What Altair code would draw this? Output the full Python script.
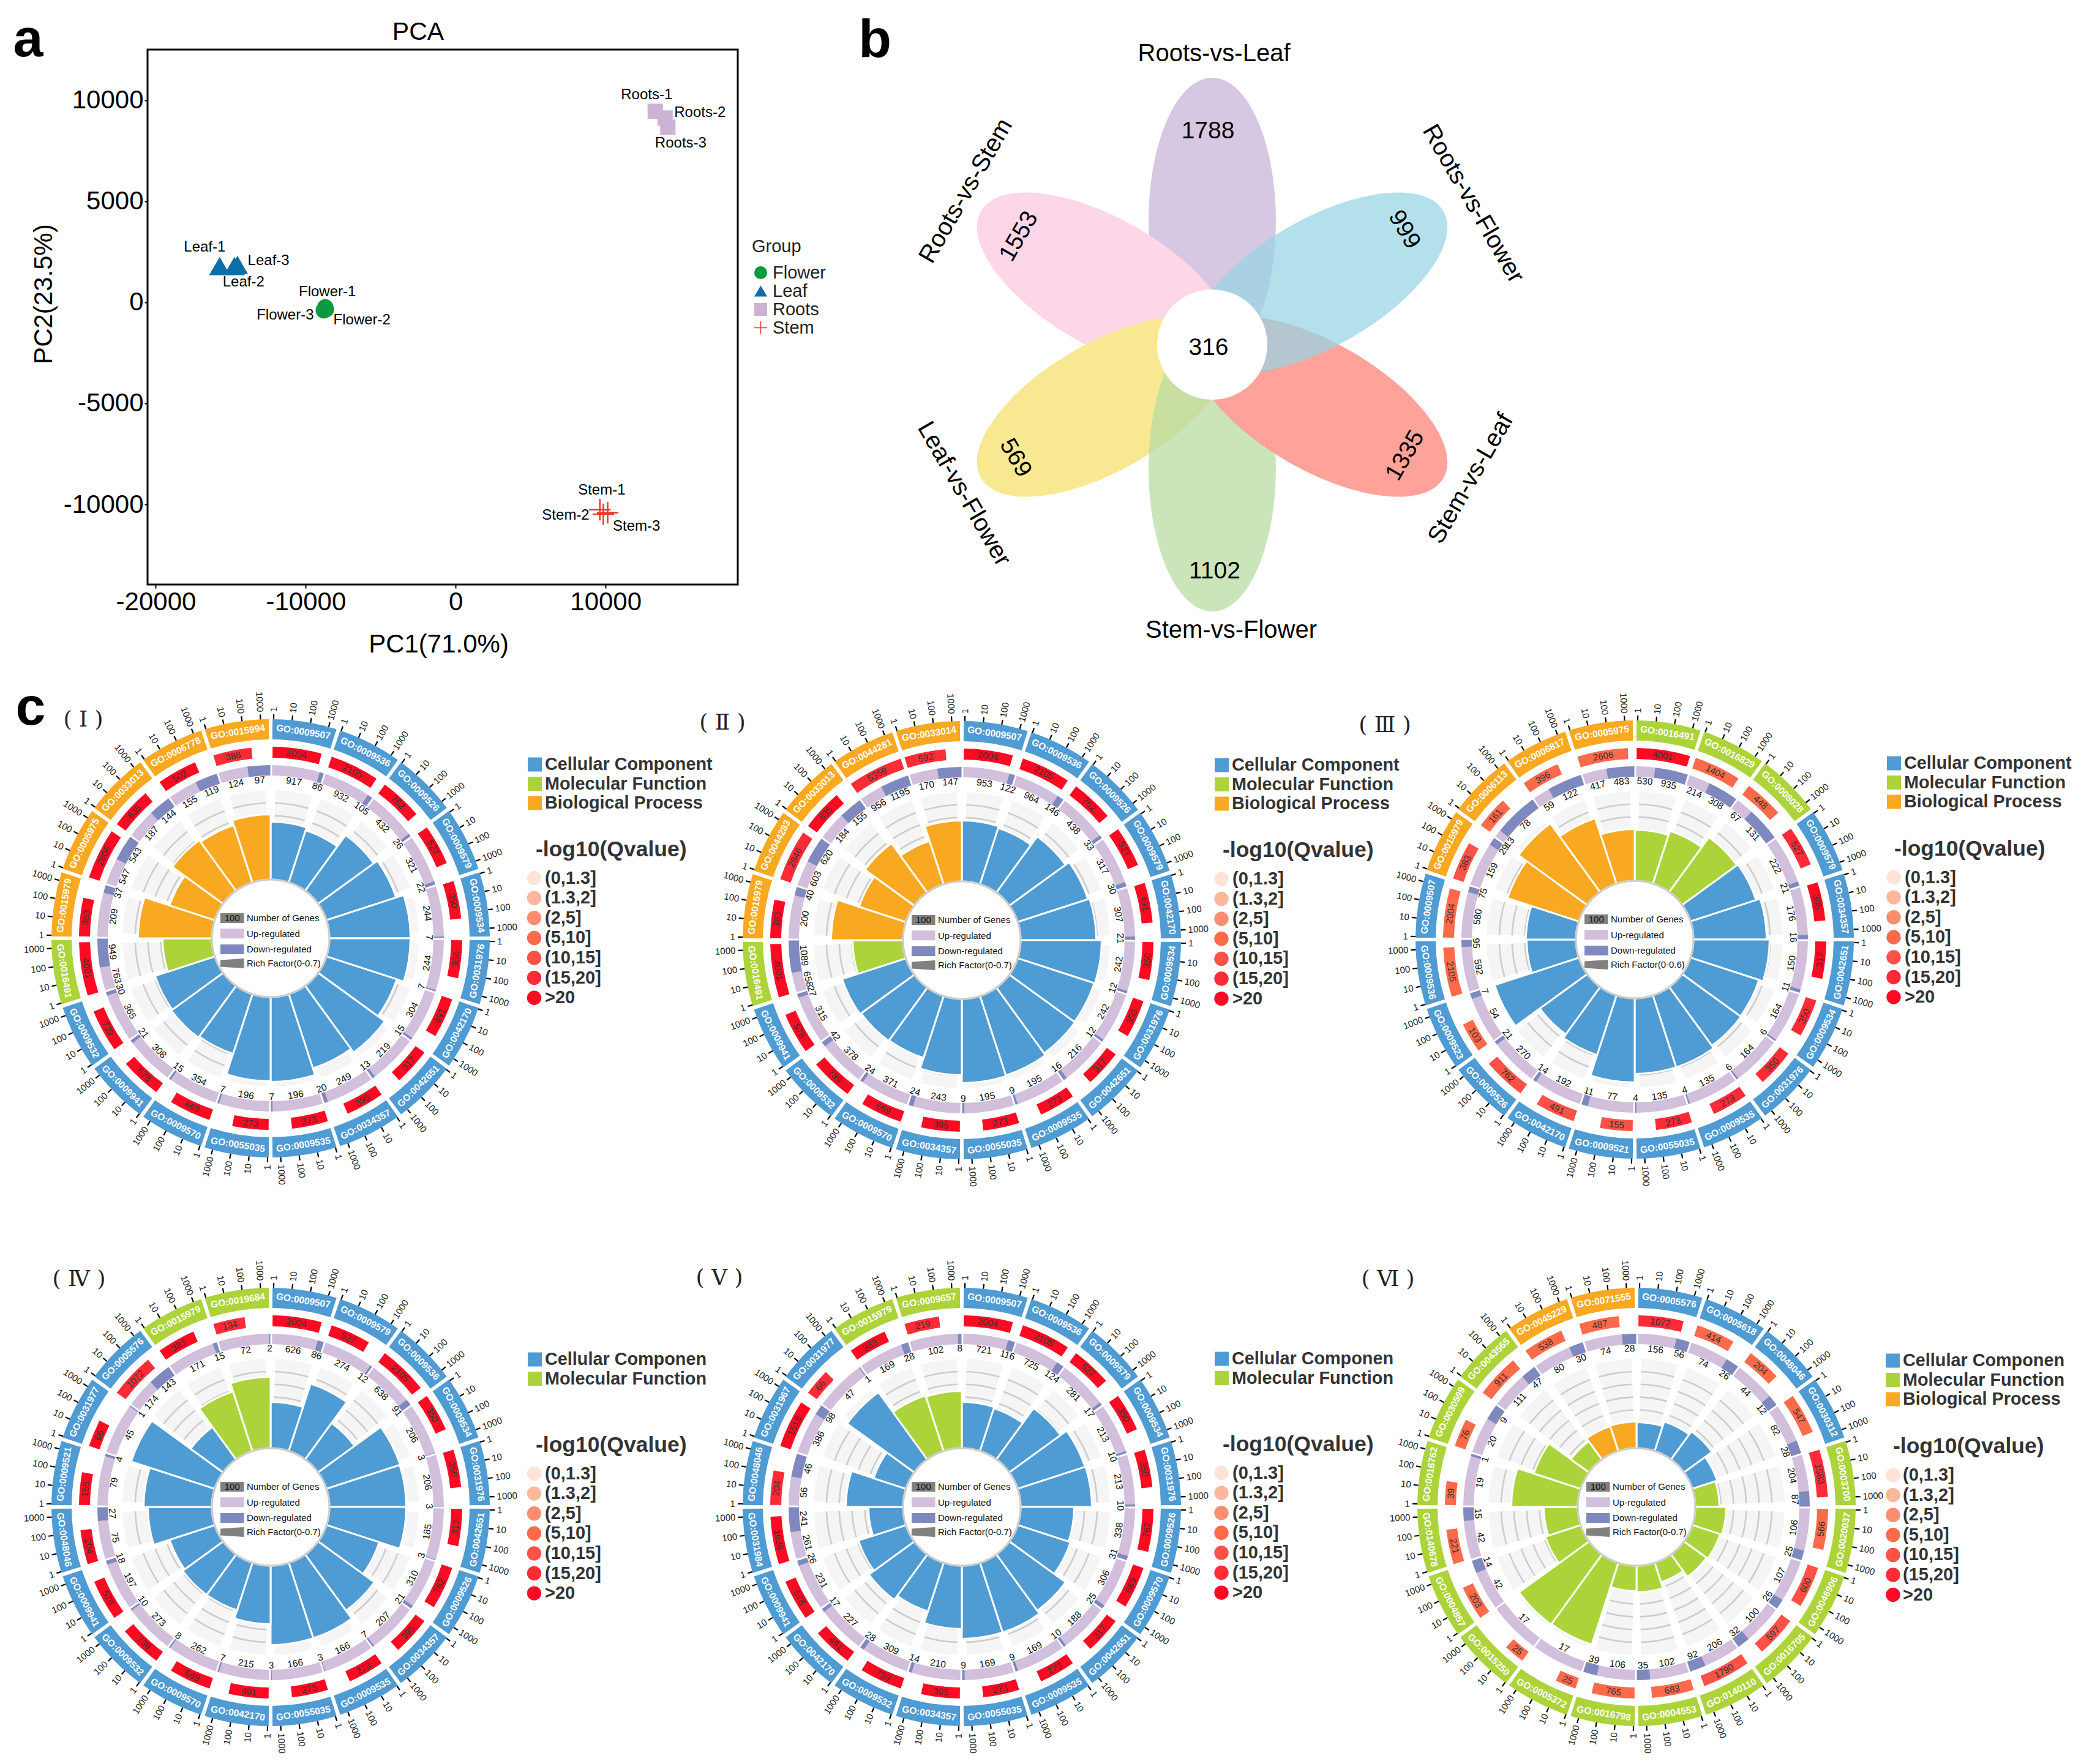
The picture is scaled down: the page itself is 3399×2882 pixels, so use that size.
import math
import altair as alt
import pandas as pd

W, H = 3383, 2866
FONT = "Liberation Sans"

# ---------- panel a ----------
GROUPS = ["Flower", "Leaf", "Roots", "Stem"]
SAMPLES = ["Flower-1", "Flower-2", "Flower-3", "Leaf-1", "Leaf-2", "Leaf-3",
           "Roots-1", "Roots-2", "Roots-3", "Stem-1", "Stem-2", "Stem-3"]
SAMPLE_GROUP = [0, 0, 0, 1, 1, 1, 2, 2, 2, 3, 3, 3]
PC1 = [-8700, -8650, -8800, -15741, -14761, -14557, 13308, 13965, 14149, 9616, 9845, 10139]
PC2 = [-250, -350, -400, 1786, 1786, 1847, 9446, 9113, 8659, -10263, -10488, -10415]
LABEL_PC1 = [-8560, -6250, -11370, -16740, -14150, -12480, 12740, 16290, 15010, 9740, 7340, 12060]
LABEL_PC2 = [510, -880, -640, 2720, 1000, 2040, 10260, 9390, 7870, -9290, -10530, -11080]
X_DOMAIN = [-20551, 18813]
Y_DOMAIN = [-13966, 12500]

# ---------- panel b ----------
PETAL_NAMES = ["Roots-vs-Leaf", "Roots-vs-Stem", "Leaf-vs-Flower", "Stem-vs-Flower", "Stem-vs-Leaf", "Roots-vs-Flower"]
PETAL_COUNTS = [1788, 1553, 569, 1102, 1335, 999]
PETAL_CORE = 316

# ---------- panel c ----------
CATS = ["Cellular Component", "Molecular Function", "Biological Process"]
GO_1 = ["0009507","0009536","0009526","0009579","0009534","0031976","0042170","0042651","0034357","0009535","0055035","0009570","0009941","0009532","0016491","0015979","0005975","0033013","0006778","0015994"]
CAT_1 = [0]*14 + [1] + [2]*5
GENES_1 = [2004,2105,762,527,350,350,491,317,395,273,273,669,578,739,4001,383,2606,635,502,388]
LEVEL_1 = [6]*19 + [5]
UP_1 = [917,932,432,321,244,244,304,219,249,196,196,354,308,365,763,209,547,187,155,124]
DOWN_1 = [86,105,26,22,7,7,15,13,20,7,7,15,21,30,949,37,543,144,119,97]
RICH_1 = [.446,.422,.532,.566,.628,.628,.571,.638,.604,.657,.652,.484,.494,.484,.379,.571,.364,.484,.465,.503]

GO_2 = ["0009507","0009536","0009526","0009579","0042170","0009534","0031976","0042651","0009535","0055035","0034357","0009570","0009532","0009941","0016491","0015979","0044283","0033013","0044281","0033014"]
CAT_2 = [0]*14 + [1] + [2]*5
GENES_2 = [2004,2105,762,527,491,350,350,317,273,273,395,669,739,578,4001,383,2846,635,5359,592]
LEVEL_2 = [6]*16 + [5,6,5,5]
UP_2 = [953,964,438,317,307,242,242,216,195,195,243,371,378,315,658,200,603,184,956,170]
DOWN_2 = [122,146,33,30,21,12,12,16,9,9,24,24,42,27,1089,40,620,155,1195,147]
RICH_2 = [.470,.456,.537,.571,.585,.628,.623,.628,.647,.652,.590,.503,.508,.518,.388,.556,.379,.470,.350,.470]

GO_3 = ["0016491","0016829","0008028","0009579","0034357","0042651","0009534","0031976","0009535","0055035","0009521","0042170","0009526","0009523","0009536","0009507","0015979","0006113","0006817","0005975"]
CAT_3 = [1]*3 + [0]*13 + [2]*4
GENES_3 = [4001,1404,448,527,395,317,350,350,273,273,155,491,762,103,2105,2004,383,161,396,2606]
LEVEL_3 = [6,3,3,5,6,6,5,5,5,5,4,4,4,3,3,3,4,3,3,3]
UP_3 = [530,214,67,222,176,150,164,164,135,135,77,192,270,54,592,580,159,13,59,417]
DOWN_3 = [935,308,131,21,16,11,6,6,4,4,11,14,21,7,95,75,29,78,122,483]
RICH_3 = [.337,.366,.448,.456,.485,.505,.477,.481,.501,.501,.559,.415,.386,.588,.325,.329,.497,.563,.456,.341]

GO_4 = ["0009507","0009579","0009536","0009534","0031976","0042651","0009526","0034357","0009535","0055035","0042170","0009570","0009532","0009941","0048046","0009521","0031977","0005576","0015979","0019684"]
CAT_4 = [0]*18 + [1]*2
GENES_4 = [2004,527,2105,350,350,317,762,395,273,273,491,669,739,578,204,155,66,1072,383,134]
LEVEL_4 = [6]*17 + [5,6,5]
UP_4 = [626,274,638,206,206,185,310,207,166,166,215,262,273,197,75,79,45,174,171,72]
DOWN_4 = [86,12,91,3,3,3,21,7,3,3,7,8,10,18,27,4,1,143,15,2]
RICH_4 = [.355,.547,.345,.599,.595,.595,.427,.537,.614,.614,.451,.384,.384,.364,.494,.527,.681,.307,.484,.551]

GO_5 = ["0009507","0009536","0009579","0009534","0031976","0009526","0009570","0042651","0009535","0055035","0034357","0009532","0042170","0009941","0031984","0048046","0031967","0031977","0015979","0009657"]
CAT_5 = [0]*18 + [1]*2
GENES_5 = [2004,2105,527,350,350,762,669,317,273,273,395,739,491,578,1638,204,1618,66,383,219]
LEVEL_5 = [6]*15 + [5,6,5,6,5]
UP_5 = [721,725,281,213,213,338,306,188,169,169,210,309,227,231,261,56,386,47,169,102]
DOWN_5 = [116,124,17,10,10,31,25,10,9,9,14,28,17,26,241,46,98,1,28,8]
RICH_5 = [.355,.345,.489,.547,.551,.412,.427,.537,.566,.566,.489,.393,.432,.384,.264,.441,.259,.643,.451,.441]

GO_6 = ["0005576","0005618","0048046","0030312","0003700","0020037","0046906","0016705","0140110","0004553","0016798","0005372","0015250","0004857","0140678","0016762","0030599","0043565","0045229","0071555"]
CAT_6 = [0]*4 + [1]*14 + [2]*2
GENES_6 = [1072,414,204,547,1583,566,600,597,1790,683,765,25,25,203,221,39,76,911,538,487]
LEVEL_6 = [5,3,3,3,5,3,4,4,4,3,3,3,3,3,3,3,3,3,3,3]
UP_6 = [156,74,44,82,204,106,107,100,206,102,106,17,17,42,42,19,20,111,80,74]
DOWN_6 = [56,26,12,28,87,25,26,32,92,35,39,0,0,14,15,1,9,47,30,28]
RICH_6 = [.197,.235,.264,.197,.182,.235,.221,.211,.153,.201,.192,.667,.671,.283,.259,.513,.379,.168,.197,.201]

TICK_LABELS = ["1", "10", "100", "1000"]
QVALUE_BINS = ["(0,1.3]", "(1.3,2]", "(2,5]", "(5,10]", "(10,15]", "(15,20]", ">20"]
ROMAN = ["( Ⅰ )", "( Ⅱ )", "( Ⅲ )", "( Ⅳ )", "( Ⅴ )", "( Ⅵ )"]
LEGEND_CATS = [CATS, CATS, CATS, ["Cellular Componen", "Molecular Function"],
               ["Cellular Componen", "Molecular Function"],
               ["Cellular Componen", "Molecular Function", "Biological Process"]]
RICH_MAX = [0.7, 0.7, 0.6, 0.7, 0.7, 0.7]

# ---------- styles ----------
CAT_COLORS = ["#4F9BD3", "#ACD43A", "#F9A921"]
LEVEL_COLORS = ["#FEE3D8", "#FDB79C", "#FC8E70", "#FE6A4A", "#FD5245", "#FF2B37", "#FF0A22"]
UP_COLOR, DOWN_COLOR = "#D1BFDC", "#7F89BF"
R_HOLE, R_BG, R_UP0, R_UP1, R_RED0, R_RED1, R_BAND0, R_BAND1 = 96, 242, 266, 283, 295, 313, 325, 358

CENTERS = [(442, 1533), (1571, 1536), (2670, 1535), (442, 2462), (1571, 2462), (2673, 2462)]
LEGEND_POS = [  # square x, first cat y, q-title x, q-title y, circle x, text x, first circle y
    (862, 1249, 875, 1388, 872.5, 890, 1434.6),
    (1984, 1250, 1997, 1389, 1995, 2013, 1436),
    (3082, 1247, 3094, 1387, 3093, 3111, 1433.5),
    (862, 2221, 875, 2360.6, 872.5, 890, 2407.5),
    (1984, 2220, 1997, 2359.6, 1995, 2013, 2406.5),
    (3080, 2223, 3092, 2363, 3092, 3108, 2410),
]
ROMAN_POS = [(136, 1176), (1180, 1181), (2262, 1185), (129, 2090), (1175, 2088), (2267, 2090)]

PANELS = [
    (GO_1, CAT_1, GENES_1, LEVEL_1, UP_1, DOWN_1, RICH_1),
    (GO_2, CAT_2, GENES_2, LEVEL_2, UP_2, DOWN_2, RICH_2),
    (GO_3, CAT_3, GENES_3, LEVEL_3, UP_3, DOWN_3, RICH_3),
    (GO_4, CAT_4, GENES_4, LEVEL_4, UP_4, DOWN_4, RICH_4),
    (GO_5, CAT_5, GENES_5, LEVEL_5, UP_5, DOWN_5, RICH_5),
    (GO_6, CAT_6, GENES_6, LEVEL_6, UP_6, DOWN_6, RICH_6),
]


def polar(cx, cy, r, deg):
    a = math.radians(deg)
    return cx - 8 + r * math.sin(a), cy - 8 - r * math.cos(a)


def tangent(deg):
    deg %= 360
    return (deg - 180 if 90 < deg < 270 else deg) % 360


PX = alt.X("x:Q", scale=None, axis=None)
PY = alt.Y("y:Q", scale=None, axis=None)


def arcs(rows, **mark):
    return alt.Chart(pd.DataFrame(rows)).mark_arc(**mark).encode(
        x=PX, y=PY,
        theta=alt.Theta("t0:Q", scale=None, stack=None),
        theta2=alt.Theta2("t1:Q"),
        radius=alt.Radius("r1:Q", scale=None),
        radius2=alt.Radius2("r0:Q"),
        color=alt.Color("c:N", scale=None),
    )


def arc_row(cx, cy, d0, d1, r0, r1, c):
    return dict(x=cx - 8, y=cy - 8, t0=math.radians(d0), t1=math.radians(d1), r0=r0, r1=r1, c=c)


def texts(rows, **mark):
    mark.setdefault("font", FONT)
    mark.setdefault("baseline", "middle")
    return alt.Chart(pd.DataFrame(rows)).mark_text(**mark).encode(
        x=PX, y=PY, text="t:N", angle=alt.Angle("a:Q", scale=None))


def text_row(x, y, t, a=0):
    return dict(x=x - 8, y=y - 8, t=str(t), a=a)


layers = []

# ---------- panel a: frame and axes ----------
xs = alt.Scale(domain=X_DOMAIN, range=[233, 1197], nice=False, zero=False)
ys = alt.Scale(domain=Y_DOMAIN, range=[947, 73], nice=False, zero=False)
x_axis = alt.Axis(
    title="PC1(71.0%)", values=[-20000, -10000, 0, 10000], labelExpr="toString(datum.value)", grid=False,
    domain=False, orient="bottom",
    offset=-(H - 947), labelFontSize=42, labelFont=FONT, labelColor="black", labelPadding=2,
    tickSize=6, tickWidth=2, tickColor="black", titleFontSize=42, titleFont=FONT, titleFontWeight="normal",
    titleColor="black", titleX=708, titleY=97, titleBaseline="middle", labelFlush=False, labelOverlap=False)
y_axis = alt.Axis(
    title="PC2(23.5%)", values=[-10000, -5000, 0, 5000, 10000], labelExpr="toString(datum.value)", grid=False,
    domain=False, orient="left",
    offset=-233, labelFontSize=42, labelFont=FONT, labelColor="black", labelPadding=2,
    tickSize=5, tickWidth=2, tickColor="black", titleFontSize=42, titleFont=FONT, titleFontWeight="normal",
    titleColor="black", titleX=-170, titleY=472, titleBaseline="middle", labelOverlap=False)
frame = pd.DataFrame([dict(a=X_DOMAIN[0], b=X_DOMAIN[1], c=Y_DOMAIN[0], d=Y_DOMAIN[1])])
layers.append(
    alt.Chart(frame).mark_rect(fillOpacity=0, stroke="black", strokeWidth=3).encode(
        x=alt.X("a:Q", scale=xs, axis=x_axis), x2=alt.X2("b:Q"),
        y=alt.Y("c:Q", scale=ys, axis=y_axis), y2=alt.Y2("d:Q"),
    )
)
CROSS = "M-0.07,-1H0.07V-0.07H1V0.07H0.07V1H-0.07V0.07H-1V-0.07H-0.07Z"
pca = pd.DataFrame(dict(
    PC1=PC1, PC2=PC2, Group=[GROUPS[i] for i in SAMPLE_GROUP], Sample=SAMPLES, lx=LABEL_PC1, ly=LABEL_PC2))
group_legend = alt.Legend(
    orient="none", legendX=1220, legendY=381, title="Group", titleFontSize=29, titleFont=FONT,
    titleFontWeight="normal", titleColor="#222", labelFontSize=29, labelFont=FONT, labelColor="#222",
    symbolSize=441, labelOffset=5, rowPadding=-5, titlePadding=13, padding=0)
GROUP_SIZES = [707, 1200, 625, 1225]
for g, s in zip(GROUPS, GROUP_SIZES):
    layers.append(
        alt.Chart(pca[pca.Group == g]).mark_point(filled=True, opacity=1, size=s).encode(
            x=alt.X("PC1:Q", scale=xs, axis=x_axis),
            y=alt.Y("PC2:Q", scale=ys, axis=y_axis),
            color=alt.Color("Group:N", legend=group_legend, scale=alt.Scale(
                domain=GROUPS, range=["#0A9A3F", "#0A6FA6", "#CBB3D3", "#F0342B"])),
            shape=alt.Shape("Group:N", legend=group_legend, scale=alt.Scale(
                domain=GROUPS, range=["circle", "triangle-up", "square", CROSS])),
        )
    )
layers.append(
    alt.Chart(pca).mark_text(font=FONT, fontSize=24, color="black", baseline="middle").encode(
        x=alt.X("lx:Q", scale=xs, axis=x_axis), y=alt.Y("ly:Q", scale=ys, axis=y_axis), text="Sample:N")
)
layers.append(texts([text_row(683, 53, "PCA")], fontSize=41, color="black"))
layers.append(texts([text_row(46, 66, "a"), text_row(1429, 67, "b"), text_row(50, 1158, "c")],
                    fontSize=88, fontWeight="bold", color="black"))

# ---------- panel b: flower ----------
VX, VY, VR = 1980, 563, 202
PETAL_B = 0.444
K = 0.5523
PETAL = (f"M0,-1C{K*PETAL_B:.4f},-1 {PETAL_B},-{K} {PETAL_B},0C{PETAL_B},{K} {K*PETAL_B:.4f},1 0,1"
         f"C-{K*PETAL_B:.4f},1 -{PETAL_B},{K} -{PETAL_B},0C-{PETAL_B},-{K} -{K*PETAL_B:.4f},-1 0,-1Z")
PETAL_STYLE = [  # draw order: direction (deg), colour, opacity
    (0, "#D6C7E3", 1), (300, "#FDD7E7", 1), (240, "#F8E892", 1),
    (180, "#B9DCA4", .75), (120, "#FFA39A", 1), (60, "#97D4E3", .72),
]
for deg, colour, op in PETAL_STYLE:
    px, py = polar(VX, VY, VR, deg)
    layers.append(
        alt.Chart(pd.DataFrame([dict(x=px, y=py)])).mark_point(
            shape=PETAL, filled=True, fill=colour, opacity=op, strokeWidth=0, size=(2 * 234) ** 2, angle=deg,
        ).encode(x=PX, y=PY)
    )
layers.append(arcs([arc_row(VX, VY, 0, 360, 0, 90, "#FFFFFF")]))
layers.append(texts([
    text_row(1983, 88, PETAL_NAMES[0]), text_row(1578, 312, PETAL_NAMES[1], 300),
    text_row(1574.5, 807, PETAL_NAMES[2], 60), text_row(2011, 1030, PETAL_NAMES[3]),
    text_row(2402.5, 782, PETAL_NAMES[4], 300), text_row(2406, 333, PETAL_NAMES[5], 60),
], fontSize=40, color="black"))
layers.append(texts([
    text_row(1973, 214, PETAL_COUNTS[0]), text_row(1664, 386, PETAL_COUNTS[1], 300),
    text_row(1659, 748, PETAL_COUNTS[2], 60), text_row(1984, 933, PETAL_COUNTS[3]),
    text_row(2295, 744, PETAL_COUNTS[4], 300), text_row(2294, 375, PETAL_COUNTS[5], 60),
    text_row(1974, 568, PETAL_CORE),
], fontSize=39, color="black"))

# ---------- panel c ----------
bg, grid, bars, red, ring, band = [], [], [], [], [], []
holes = []
ticks, tl_right, tl_left, go_txt, red_txt, cnt_txt = [], [], [], [], [], []
swatch, wedge, centre_txt, centre_num = [], [], [], []
sq, sq_txt, q_title, dots, dot_txt, roman = [], [], [], [], [], []

for p, (cx, cy) in enumerate(CENTERS):
    go, cat, genes, level, up, down, rich = PANELS[p]
    rmax = RICH_MAX[p]
    span = R_BG - R_HOLE
    for k in range(20):
        t = 18 * k
        bg.append(arc_row(cx, cy, t + 1.9, t + 16.1, R_HOLE, R_BG, "#F5F5F5"))
        for level_i in range(1, 7):
            rr = R_HOLE + level_i / 7 * span
            grid.append(arc_row(cx, cy, t + 1.9, t + 16.1, rr - 1.3, rr + 1.3, "#CCCCCC"))
        bars.append(arc_row(cx, cy, t, t + 18, R_HOLE, R_HOLE + rich[k] / rmax * span + 1.5, CAT_COLORS[cat[k]]))
        band.append(arc_row(cx, cy, t + 0.5, t + 17.5, R_BAND0, R_BAND1, CAT_COLORS[cat[k]]))
        red_end = t + 0.6 + 4.5 * math.log10(genes[k])
        red.append(arc_row(cx, cy, t + 0.6, red_end, R_RED0, R_RED1, LEVEL_COLORS[level[k]]))
        # up / down ring
        a0, a1 = t + 0.5, t + 17.9
        am = a0 + (a1 - a0) * up[k] / (up[k] + down[k])
        ring.append(arc_row(cx, cy, a0, am, R_UP0, R_UP1, UP_COLOR))
        if down[k]:
            ring.append(arc_row(cx, cy, am, a1, R_UP0, R_UP1, DOWN_COLOR))
        x, y = polar(cx, cy, 259, (a0 + am) / 2)
        cnt_txt.append(dict(x=x, y=y, t=str(up[k]), a=tangent((a0 + am) / 2)))
        if down[k]:
            x, y = polar(cx, cy, 259, (am + a1) / 2)
            cnt_txt.append(dict(x=x, y=y, t=str(down[k]), a=tangent((am + a1) / 2)))
        # labels
        x, y = polar(cx, cy, (R_BAND0 + R_BAND1) / 2, t + 9)
        go_txt.append(dict(x=x, y=y, t="GO:" + go[k], a=tangent(t + 9)))
        x, y = polar(cx, cy, (R_RED0 + R_RED1) / 2, (t + 0.6 + red_end) / 2)
        red_txt.append(dict(x=x, y=y, t=str(genes[k]), a=tangent((t + 0.6 + red_end) / 2)))
        # log ticks on the outer band
        for i, lab in enumerate(TICK_LABELS):
            d = t + 0.8 + 4.85 * i
            x0, y0 = polar(cx, cy, R_BAND1, d)
            x1, y1 = polar(cx, cy, R_BAND1 + 8, d)
            ticks.append(dict(x=x0, y=y0, x2=x1, y2=y1))
            x, y = polar(cx, cy, R_BAND1 + 12, d)
            if d < 180:
                tl_right.append(dict(x=x, y=y, t=lab, a=(d - 90) % 360))
            else:
                tl_left.append(dict(x=x, y=y, t=lab, a=(d + 90) % 360))
    holes.append(arc_row(cx, cy, 0, 360, 0, R_HOLE, "#FFFFFF"))

    # centre key
    for (y0, y1, c) in [(-41, -25, "#808080"), (-15.7, 0.3, UP_COLOR), (10, 26, DOWN_COLOR)]:
        swatch.append(dict(x=cx - 8 - 82, x2=cx - 8 - 43.5, y=cy - 8 + y0, y2=cy - 8 + y1, c=c))
    wedge.append(dict(x=cx - 8 - 62.75, y=cy - 8 + 41))
    centre_num.append(text_row(cx - 62.75, cy - 33, "100"))
    for dy, s in zip([-33, -7.5, 18, 41], ["Number of Genes", "Up-regulated", "Down-regulated",
                                            f"Rich Factor(0-{rmax})"]):
        centre_txt.append(text_row(cx - 39, cy + dy, s))

    # side legends
    sx, cy0, qx, qy, dx, tx, dy0 = LEGEND_POS[p]
    for i, lab in enumerate(LEGEND_CATS[p]):
        yy = cy0 + i * 31.5
        sq.append(dict(x=sx - 8, x2=sx + 15, y=yy - 8 - 11.5, y2=yy - 8 + 11.5, c=CAT_COLORS[i]))
        sq_txt.append(text_row(sx + 28, yy, lab))
    q_title.append(text_row(qx, qy, "-log10(Qvalue)"))
    for i, lab in enumerate(QVALUE_BINS):
        yy = dy0 + i * 32.6
        dots.append(arc_row(dx, yy, 0, 360, 0, 11.7, LEVEL_COLORS[i]))
        dot_txt.append(text_row(tx, yy, lab))
    roman.append(text_row(ROMAN_POS[p][0], ROMAN_POS[p][1], ROMAN[p]))

layers += [arcs(bg), arcs(grid), arcs(bars, stroke="white", strokeWidth=3),
           arcs(holes, stroke="#CCCCCC", strokeWidth=3),
           arcs(band), arcs(red), arcs(ring), arcs(dots)]

rect_enc = dict(x=PX, x2=alt.X2("x2:Q"), y=PY, y2=alt.Y2("y2:Q"), color=alt.Color("c:N", scale=None))
layers.append(alt.Chart(pd.DataFrame(swatch)).mark_rect().encode(**rect_enc))
layers.append(alt.Chart(pd.DataFrame(sq)).mark_rect().encode(**rect_enc))
WEDGE = "M-1,-0.29L1,-0.42L1,0.42L-1,0.29Z"
layers.append(alt.Chart(pd.DataFrame(wedge)).mark_point(
    shape=WEDGE, filled=True, fill="#808080", opacity=1, strokeWidth=0, size=38.5 ** 2).encode(x=PX, y=PY))
layers.append(alt.Chart(pd.DataFrame(ticks)).mark_rule(color="black", strokeWidth=2.2).encode(
    x=PX, y=PY, x2=alt.X2("x2:Q"), y2=alt.Y2("y2:Q")))
layers.append(texts(tl_right, fontSize=15, color="#222", align="left"))
layers.append(texts(tl_left, fontSize=15, color="#222", align="right"))
layers.append(texts(go_txt, fontSize=15.5, fontWeight="bold", color="white"))
layers.append(texts(red_txt, fontSize=15, color="#333"))
layers.append(texts(cnt_txt, fontSize=15.5, color="#111"))
layers.append(texts(centre_num, fontSize=15, color="#111"))
layers.append(texts(centre_txt, fontSize=15, color="#111", align="left"))
layers.append(texts(sq_txt, fontSize=28.8, fontWeight="bold", color="#333", align="left"))
layers.append(texts(q_title, fontSize=35.5, fontWeight="bold", color="#333", align="left"))
layers.append(texts(dot_txt, fontSize=29, fontWeight="bold", color="#333", align="left"))
layers.append(texts(roman, fontSize=36, font="DejaVu Serif", color="#222"))

chart = alt.layer(*layers).properties(
    width=W, height=H, padding=0, autosize=alt.AutoSizeParams(type="none")
).configure_view(strokeWidth=0)

chart.save("out.html", embed_options={"renderer": "svg", "actions": False})
